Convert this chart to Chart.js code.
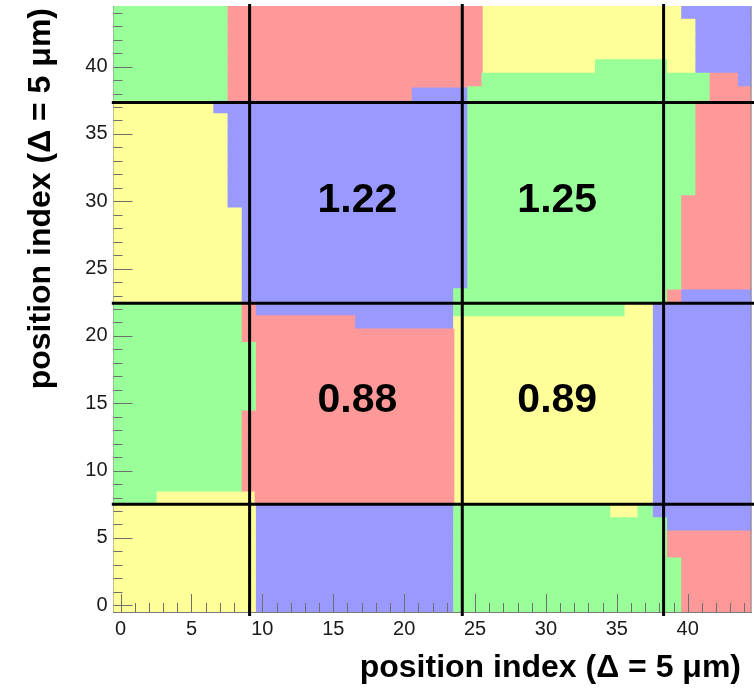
<!DOCTYPE html>
<html>
<head>
<meta charset="utf-8">
<script src="https://cdn.jsdelivr.net/npm/chart.js@4.4.1/dist/chart.umd.min.js"></script>
<style>
  html, body { margin: 0; padding: 0; background: #fff; }
  #map { display: block; }
</style>
</head>
<body>
<canvas id="map" width="754" height="693"></canvas>
<script>
// cell map: one line of colour runs per row, row 44 at the top, row 0 last
const rowRuns = [
  'G8 R18 Y14 B5',
  'G8 R18 Y15 B4',
  'G8 R18 Y15 B4',
  'G8 R18 Y15 B4',
  'G8 R18 Y8 G5 Y2 B4',
  'G8 R18 G16 R2 B1',
  'G8 R13 B4 G17 R3',
  'Y7 B18 G16 R4',
  'Y8 B17 G16 R4',
  'Y8 B17 G16 R4',
  'Y8 B17 G16 R4',
  'Y8 B17 G16 R4',
  'Y8 B17 G16 R4',
  'Y8 B17 G16 R4',
  'Y8 B17 G15 R5',
  'Y9 B16 G15 R5',
  'Y9 B16 G15 R5',
  'Y9 B16 G15 R5',
  'Y9 B16 G15 R5',
  'Y9 B16 G15 R5',
  'Y9 B16 G15 R5',
  'Y9 B15 G15 R1 B5',
  'G9 R1 B14 G12 Y2 B7',
  'G9 R8 B7 Y14 B7',
  'G9 R15 Y14 B7',
  'G10 R14 Y14 B7',
  'G10 R14 Y14 B7',
  'G10 R14 Y14 B7',
  'G10 R14 Y14 B7',
  'G10 R14 Y14 B7',
  'G9 R15 Y14 B7',
  'G9 R15 Y14 B7',
  'G9 R15 Y14 B7',
  'G9 R15 Y14 B7',
  'G9 R15 Y14 B7',
  'G9 R15 Y14 B7',
  'G3 Y7 R14 Y14 B7',
  'Y10 B14 G11 Y2 G1 B7',
  'Y10 B14 G15 B6',
  'Y10 B14 G15 R6',
  'Y10 B14 G15 R6',
  'Y10 B14 G16 R5',
  'Y10 B14 G16 R5',
  'Y10 B14 G16 R5',
  'Y10 B14 G16 R5'
];
const colourKeys = ['G', 'R', 'Y', 'B'];
const colourFills = ['#99ff99', '#ff9999', '#ffff99', '#9999ff'];

// block boundaries
const cutsX = [9.1, 24.1, 38.3];
const cutsY = [7.5, 22.43, 37.33];
const cutSpanX = [-0.62, 44.7];
const cutSpanY = [-0.8, 44.65];

// mean value of each block
const blockLabels = ['1.22', '1.25', '0.88', '0.89'];
const blockX = [16.7, 30.8, 16.7, 30.8];
const blockY = [30.05, 30.05, 15.2, 15.2];

const tickValues = Array.from({ length: 45 }, (_, i) => i);
const axisTitle = 'position index (\u0394 = 5 \u03bcm)';
const fontFamily = '"Liberation Sans", Arial, Helvetica, sans-serif';

// split the runs into floating bars, one dataset per colour
const cells = {};
colourKeys.forEach((k) => (cells[k] = []));
rowRuns.forEach((runs, i) => {
  const row = rowRuns.length - 1 - i;
  let col = 0;
  runs.split(' ').forEach((run) => {
    const n = parseInt(run.slice(1));
    cells[run[0]].push({ x: [col - 0.5, col + n - 0.5], y: row });
    col += n;
  });
});

const barSets = colourKeys.map((k, i) => ({
  type: 'bar',
  data: cells[k],
  backgroundColor: colourFills[i],
  borderWidth: 0,
  barPercentage: 1,
  categoryPercentage: 1,
  grouped: false,
  inflateAmount: 0.6,
  order: 2,
}));

const cutStyle = {
  type: 'line',
  borderColor: '#000',
  borderWidth: 3,
  pointRadius: 0,
  tension: 0,
  clip: false,
  order: 1,
};
const cutSets = [
  ...cutsX.map((c) => ({ ...cutStyle, data: cutSpanY.map((y) => ({ x: c, y })) })),
  ...cutsY.map((c) => ({ ...cutStyle, data: cutSpanX.map((x) => ({ x, y: c })) })),
];

let ticksDrawn = false;

const drawTickMarks = (chart) => {
  const { ctx, chartArea: area, scales: { x, y } } = chart;
  ctx.save();
  ctx.strokeStyle = '#6e6e6e';
  ctx.lineWidth = 1;
  ctx.beginPath();
  x.ticks.forEach((t) => {
    const px = Math.round(x.getPixelForValue(t.value)) + 0.5;
    const len = t.value % 5 === 0 ? 18 : 9;
    ctx.moveTo(px, area.bottom);
    ctx.lineTo(px, area.bottom - len);
  });
  y.ticks.forEach((t) => {
    const py = Math.round(y.getPixelForValue(t.value)) + 0.5;
    const len = t.value % 5 === 0 ? 19 : 9;
    ctx.moveTo(area.left, py);
    ctx.lineTo(area.left + len, py);
  });
  ctx.stroke();
  // right side of the frame
  ctx.strokeStyle = '#8a8a8a';
  ctx.beginPath();
  ctx.moveTo(area.right - 0.5, area.top);
  ctx.lineTo(area.right - 0.5, area.bottom);
  ctx.stroke();
  ctx.restore();
};

const mapDecor = {
  id: 'mapDecor',
  beforeDatasetsDraw() {
    ticksDrawn = false;
  },
  beforeDatasetDraw(chart, args) {
    // tick marks sit above the cells but under the black cuts
    if (!ticksDrawn && args.meta.type === 'line') {
      drawTickMarks(chart);
      ticksDrawn = true;
    }
  },
  afterDatasetsDraw(chart) {
    const { ctx, scales: { x, y } } = chart;
    ctx.save();
    ctx.fillStyle = '#000';
    ctx.font = `bold 41px ${fontFamily}`;
    ctx.textAlign = 'center';
    ctx.textBaseline = 'middle';
    blockLabels.forEach((t, i) => {
      ctx.fillText(t, x.getPixelForValue(blockX[i]), y.getPixelForValue(blockY[i]));
    });
    ctx.restore();
  },
  afterDraw(chart) {
    const { ctx } = chart;
    ctx.save();
    ctx.fillStyle = '#000';
    ctx.font = `bold 32px ${fontFamily}`;
    ctx.textBaseline = 'alphabetic';
    ctx.textAlign = 'right';
    ctx.fillText(axisTitle, 741, 677);
    ctx.translate(50, 8);
    ctx.rotate(-Math.PI / 2);
    ctx.fillText(axisTitle, 0, 0);
    ctx.restore();
  },
};

const tickFont = { family: fontFamily, size: 20 };
const tickLabel = (v) => (v % 5 === 0 ? String(v) : '');
const setTicks = (axis) => {
  axis.ticks = tickValues.map((v) => ({ value: v }));
};

new Chart(document.getElementById('map'), {
  type: 'bar',
  data: { datasets: [...barSets, ...cutSets] },
  options: {
    indexAxis: 'y',
    responsive: false,
    devicePixelRatio: 1,
    animation: false,
    events: [],
    layout: { autoPadding: false, padding: { top: 6, right: 2.5, left: 0, bottom: 0 } },
    plugins: { legend: { display: false }, tooltip: { enabled: false } },
    scales: {
      x: {
        type: 'linear',
        min: -0.5,
        max: 44.5,
        afterBuildTicks: setTicks,
        afterFit(s) {
          s.height = 81;
          s.paddingLeft = 0;
          s.paddingRight = 0;
        },
        grid: { display: false, drawTicks: false },
        border: { display: true, color: '#7a7a7a', width: 1 },
        ticks: {
          autoSkip: false,
          maxRotation: 0,
          minRotation: 0,
          padding: 5,
          color: '#1a1a1a',
          font: tickFont,
          callback: tickLabel,
        },
      },
      y: {
        type: 'linear',
        min: -0.5,
        max: 44.5,
        offset: false,
        afterBuildTicks: setTicks,
        afterFit(s) {
          s.width = 113.5;
          s.paddingTop = 0;
          s.paddingBottom = 0;
        },
        grid: { display: false, drawTicks: false, offset: false },
        border: { display: true, color: '#7a7a7a', width: 1 },
        ticks: {
          autoSkip: false,
          padding: 6,
          color: '#1a1a1a',
          font: tickFont,
          callback: tickLabel,
        },
      },
    },
  },
  plugins: [mapDecor],
});
</script>
</body>
</html>
